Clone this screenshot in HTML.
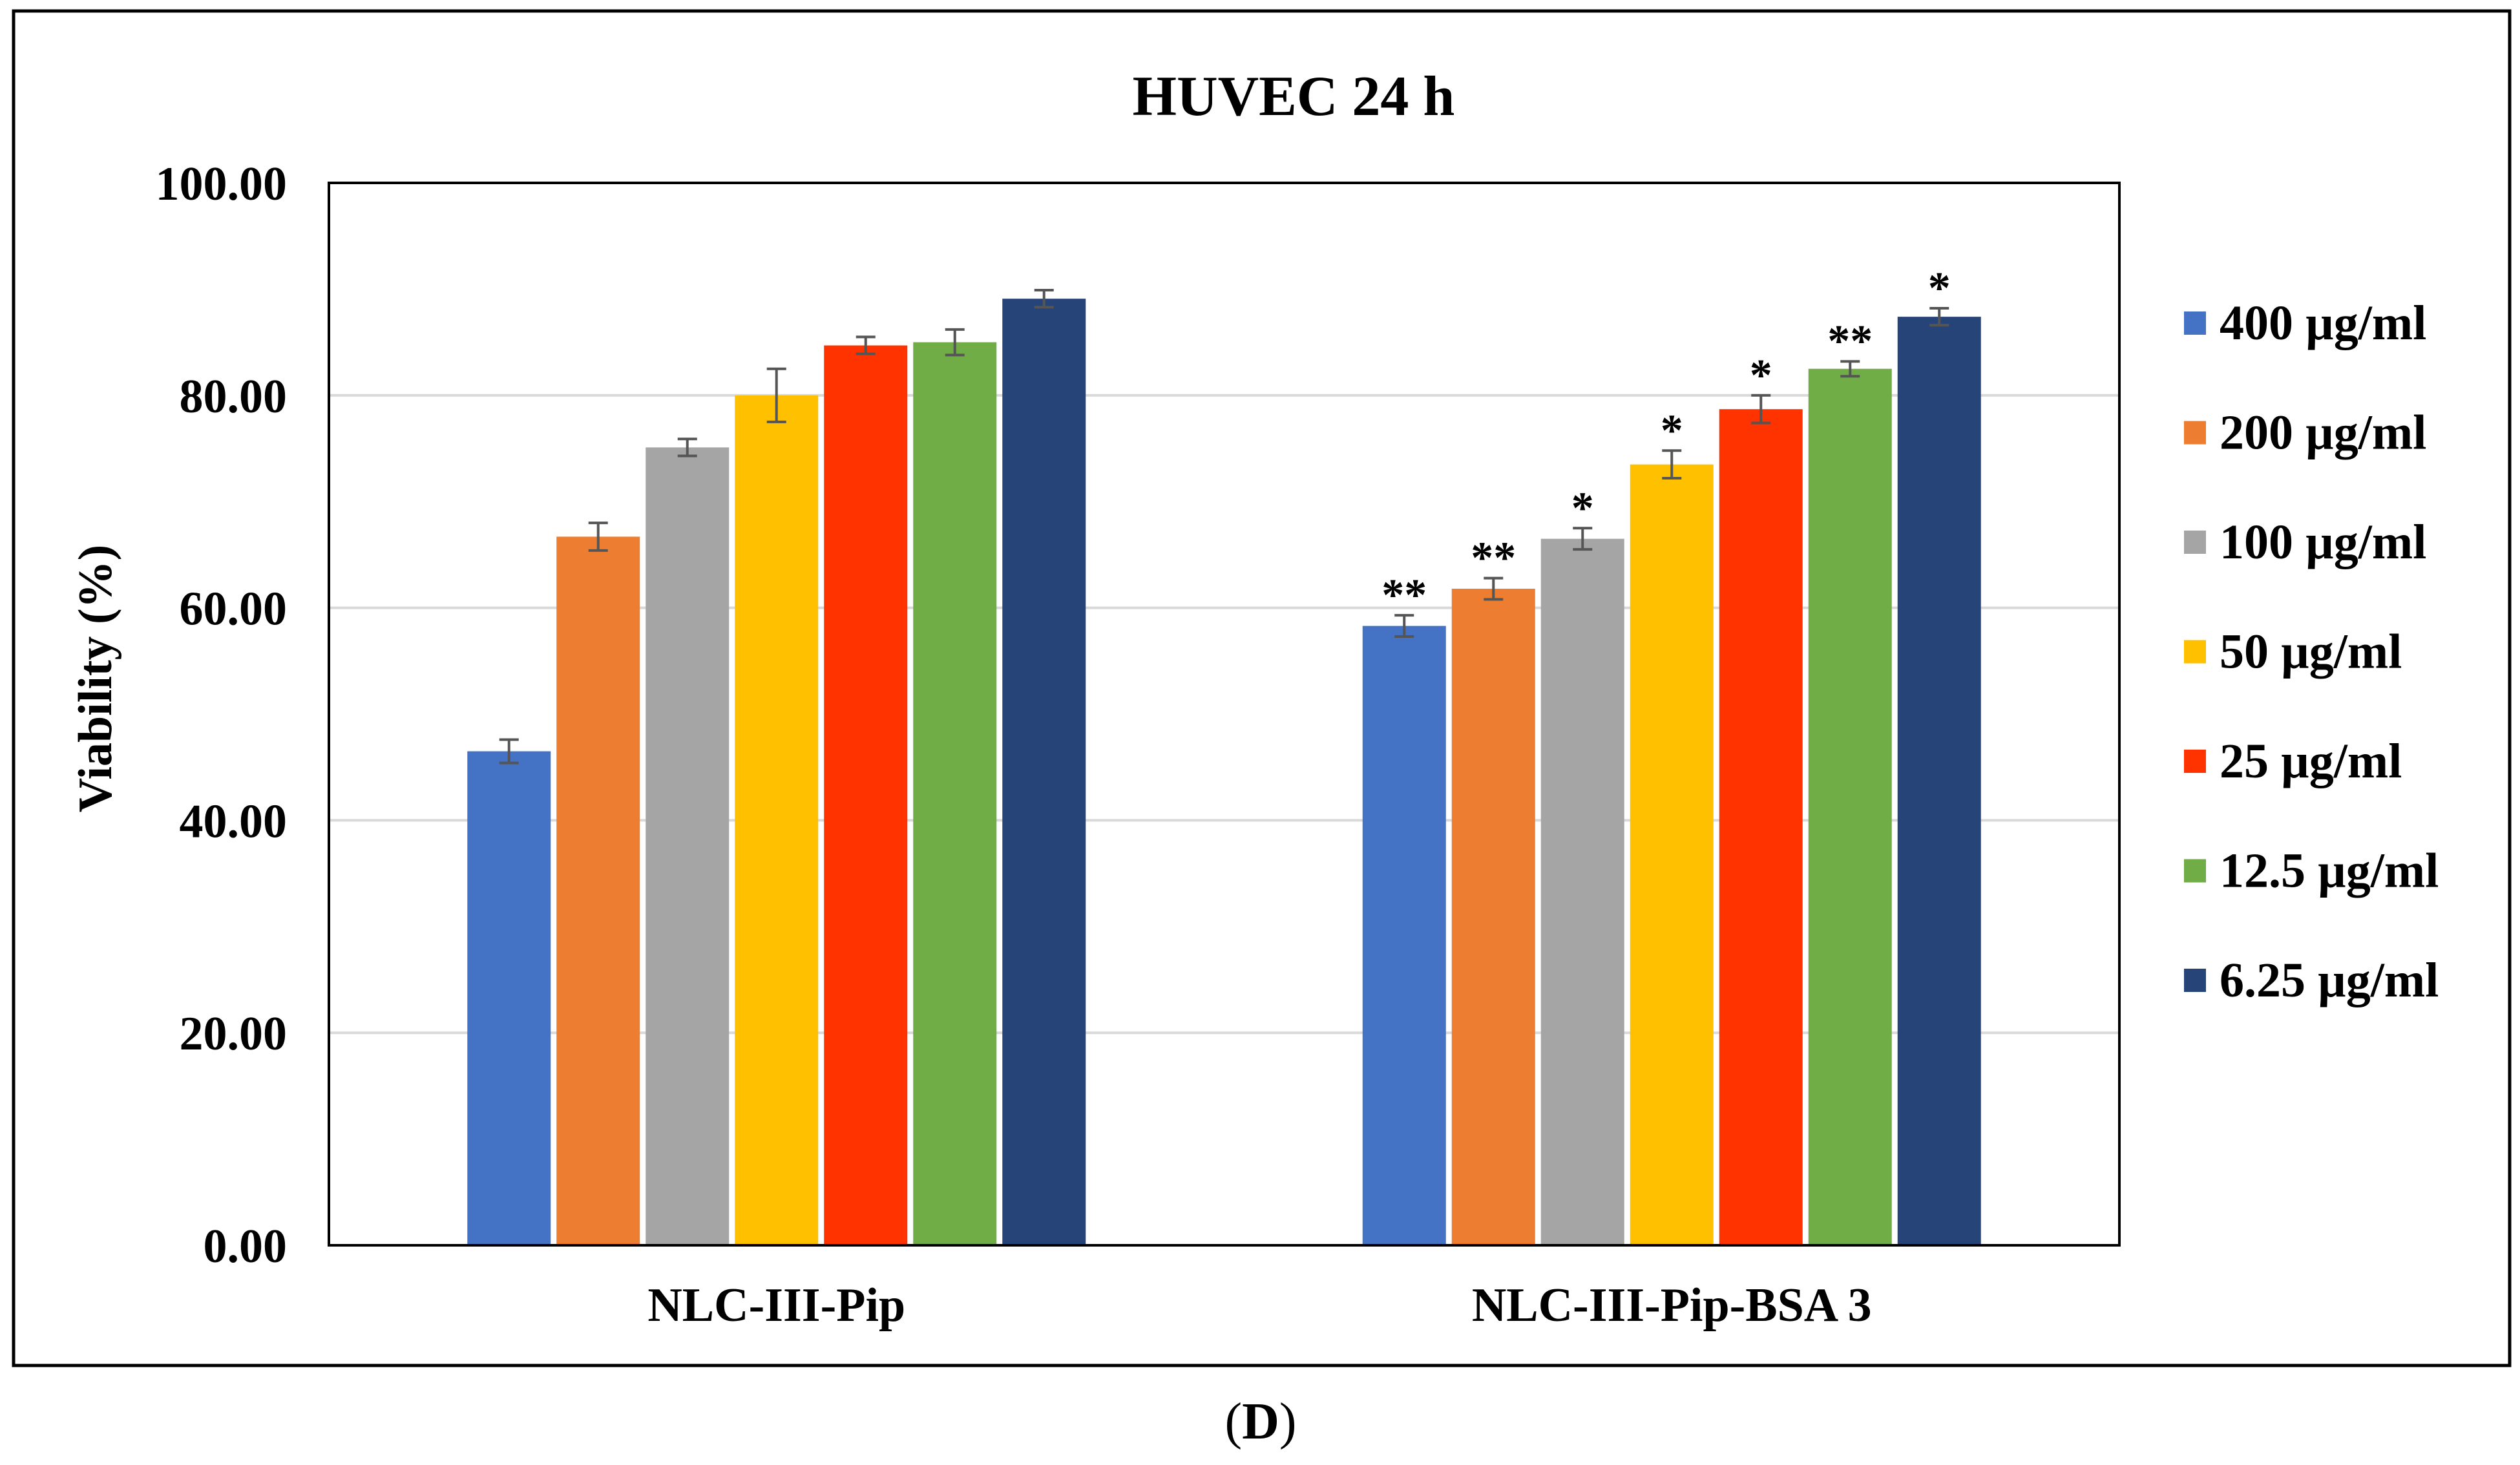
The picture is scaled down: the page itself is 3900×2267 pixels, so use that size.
<!DOCTYPE html>
<html><head><meta charset="utf-8"><style>
html,body{margin:0;padding:0;background:#fff;}
svg{display:block;}
text{font-family:"Liberation Serif",serif;font-weight:bold;fill:#000;}
</style></head><body>
<svg id="chart" width="3900" height="2267" viewBox="0 0 3900 2267" xmlns="http://www.w3.org/2000/svg">
<rect x="21" y="17" width="3863" height="2096" fill="#fff" stroke="#000" stroke-width="5"/>
<text x="2002" y="178" font-size="88" text-anchor="middle">HUVEC 24 h</text>
<g id="grid"></g>
<g id="bars"></g>
<rect x="509" y="283" width="2771" height="1644" fill="none" stroke="#000" stroke-width="4"/>
<g id="yticks"></g>
<g id="xlabels"></g>
<text transform="translate(172,1050) rotate(-90)" font-size="74" text-anchor="middle">Viability (%)</text>
<g id="legend"></g>
<text x="1951" y="2226" font-size="80" text-anchor="middle" style="font-weight:normal">(<tspan font-weight="bold">D</tspan>)</text>
</svg>
<script>
const categories = ["NLC-III-Pip", "NLC-III-Pip-BSA 3"];
const seriesNames = ["400 µg/ml", "200 µg/ml", "100 µg/ml", "50 µg/ml", "25 µg/ml", "12.5 µg/ml", "6.25 µg/ml"];
const nlcValues = [46.5, 66.7, 75.1, 80.0, 84.7, 85.0, 89.1];
const bsaValues = [58.3, 61.8, 66.5, 73.5, 78.7, 82.5, 87.4];
const nlcErrors = [1.1, 1.3, 0.8, 2.5, 0.8, 1.2, 0.8];
const bsaErrors = [1.0, 1.0, 1.0, 1.3, 1.3, 0.7, 0.8];
const nlcStars = ["", "", "", "", "", "", ""];
const bsaStars = ["**", "**", "*", "*", "*", "**", "*"];
const yTicks = [0, 20, 40, 60, 80, 100];
const yTickLabels = ["0.00", "20.00", "40.00", "60.00", "80.00", "100.00"];
const colors = ["#4472c4", "#ed7d31", "#a5a5a5", "#ffc000", "#ff3300", "#70ad47", "#264478"];

const NS = "http://www.w3.org/2000/svg";
const plotL = 509, plotR = 3280, plotT = 283, plotB = 1927;
function y(v){ return plotB - (v/100)*(plotB-plotT); }
const catW = (plotR-plotL)/categories.length;
function catCenter(i){ return plotL + catW*(i+0.5); }
const step = 138, barW = 129;
function barX(ci, si){ return catCenter(ci) - step*seriesNames.length/2 + si*step + (step-barW)/2; }
function mk(tag, attrs, parent){ const e=document.createElementNS(NS,tag); for(const k in attrs) e.setAttribute(k,attrs[k]); parent.appendChild(e); return e; }

const grid = document.getElementById('grid');
yTicks.forEach((t,i)=>{
  if(t>0 && t<100){
    const l = mk('line',{x1:plotL,x2:plotR,y1:y(t),y2:y(t),stroke:'#d9d9d9','stroke-width':4},grid);
    
    
  }
  const tx = mk('text',{x:444,y:y(t)+26,'font-size':74,'text-anchor':'end'},document.getElementById('yticks'));
  tx.textContent = yTickLabels[i];
  
  
});

const barsG = document.getElementById('bars');
const allVals = [nlcValues, bsaValues], allErr = [nlcErrors, bsaErrors], allStars = [nlcStars, bsaStars];
categories.forEach((c,ci)=>{
  seriesNames.forEach((s,si)=>{
    const v = allVals[ci][si], e = allErr[ci][si];
    const x = barX(ci,si);
    const r = mk('rect',{x:x,y:y(v),width:barW,height:plotB-y(v),fill:colors[si]},barsG);
    
    
    const cx = x+barW/2;
    const eg = mk('g',{stroke:'#555','stroke-width':4},barsG);
    
    
    mk('line',{x1:cx,x2:cx,y1:y(v+e),y2:y(v-e)},eg);
    mk('line',{x1:cx-15,x2:cx+15,y1:y(v+e),y2:y(v+e)},eg);
    mk('line',{x1:cx-15,x2:cx+15,y1:y(v-e),y2:y(v-e)},eg);
    const st = allStars[ci][si];
    if(st){
      const t = mk('text',{x:cx,y:y(v+e)-8,'font-size':70,'text-anchor':'middle'},barsG);
      t.textContent = st;
      
      
    }
  });
  const xl = mk('text',{x:catCenter(ci),y:2044,'font-size':74,'text-anchor':'middle'},document.getElementById('xlabels'));
  xl.textContent = c;
  
  
});

const lg = document.getElementById('legend');
seriesNames.forEach((s,si)=>{
  const cy = 500 + si*169.5;
  const g = mk('g',{},lg);
  
  
  mk('rect',{x:3380,y:cy-18,width:34,height:36,fill:colors[si]},g);
  const t = mk('text',{x:3435,y:cy+25,'font-size':76},g);
  t.textContent = s;
});
</script>
</body></html>
